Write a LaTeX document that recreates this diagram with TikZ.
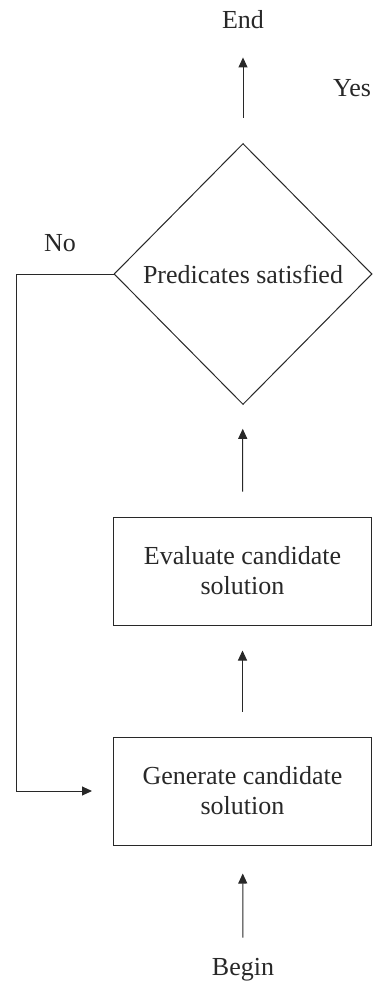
\documentclass[tikz,border=0pt]{standalone}
\usepackage{fontspec}
\setmainfont{Liberation Serif}
\usetikzlibrary{shapes.geometric,arrows.meta}
\definecolor{ink}{RGB}{40,40,40}
\tikzset{
  flow/.style={draw=ink, line width=1pt},
  arrowline/.style={flow, -{Triangle[length=10pt,width=9pt]}},
  procbox/.style={draw=ink, line width=1pt, minimum width=258pt, minimum height=108pt,
    inner sep=0pt, align=center, text=ink},
  decision/.style={draw=ink, line width=1pt, diamond, minimum width=258pt,
    minimum height=261pt, inner sep=0pt, text=ink},
  term/.style={inner sep=0pt, anchor=base, text=ink},
  lbl/.style={inner sep=0pt, text=ink},
}
\begin{document}
\begin{tikzpicture}[x=1pt,y=-1pt,font=\fontsize{26}{30}\selectfont]
\useasboundingbox (0,0) rectangle (372,987);

% terminals
\node[term] (finish) at (243,29) {End};
\node[term] (start) at (243,975) {Begin};

% decision and process steps
\node[decision] (check) at (243,274) {Predicates satisfied};
\node[procbox] (evaluate) at (242.5,571) {Evaluate candidate\\solution};
\node[procbox] (generate) at (242.5,791) {Generate candidate\\solution};

% branch labels
\node[lbl] (yes) at (352,88) {Yes};
\node[lbl] (no) at (60,243) {No};

% main flow
\draw[arrowline, shorten <=20pt, shorten >=28pt] (start) -- (generate);
\draw[arrowline, shorten <=25pt, shorten >=25pt] (generate) -- (evaluate);
\draw[arrowline, shorten <=25pt, shorten >=24pt] (evaluate) -- (check);
\draw[arrowline, shorten <=25pt, shorten >=28pt] (check.north) -- (finish.south);

% "No" loop back to generation
\coordinate (loopcorner) at (16,274);
\draw[arrowline, shorten >=21pt] (check.west) -- (loopcorner) |- (generate.west);
\end{tikzpicture}
\end{document}
